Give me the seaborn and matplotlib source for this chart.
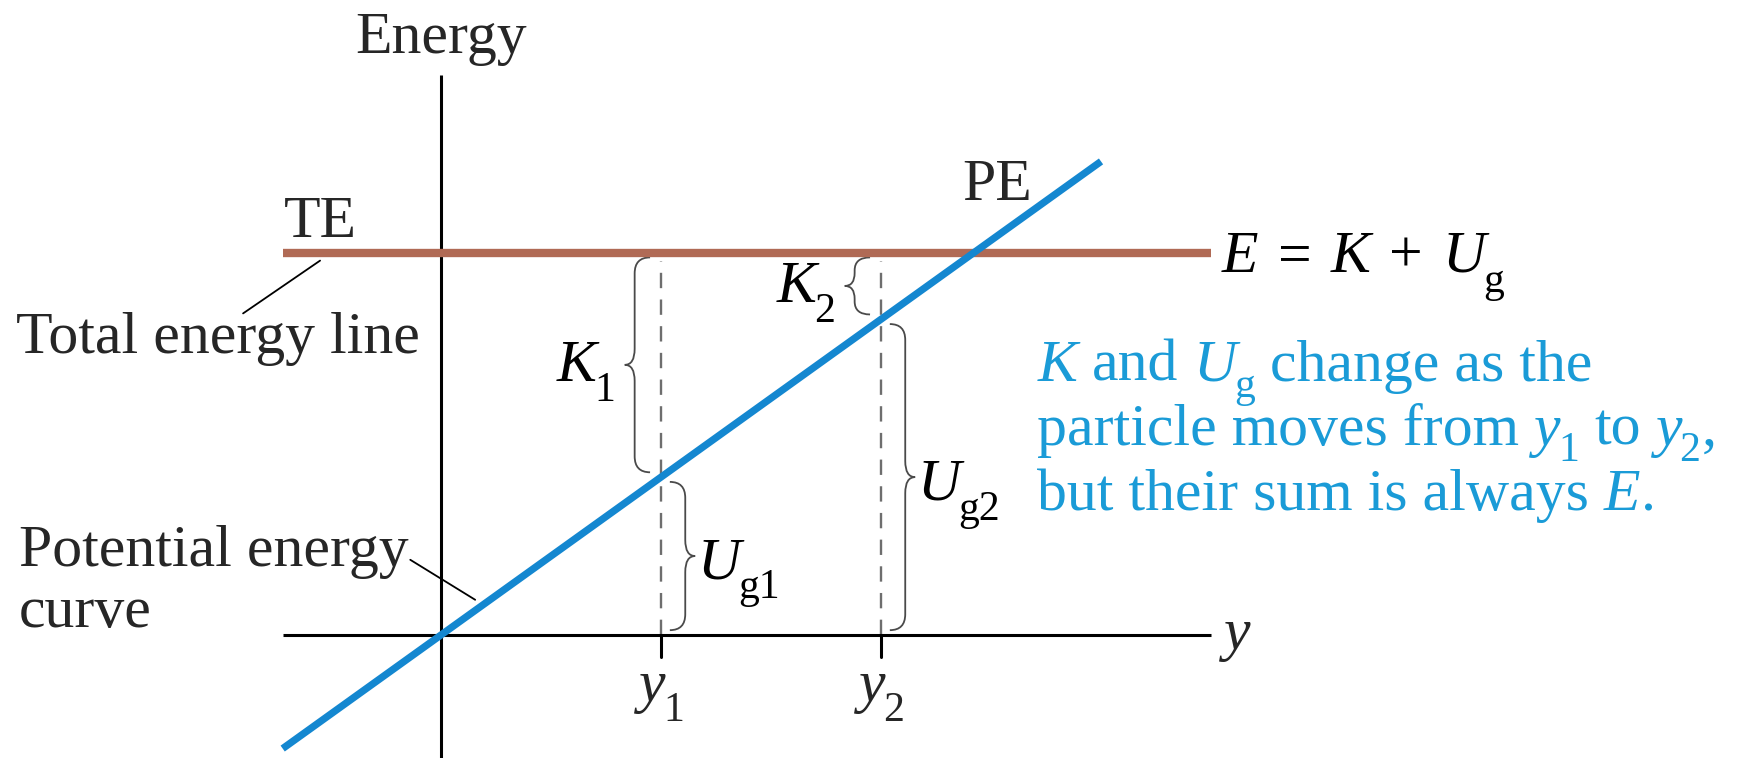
import numpy as np
import pandas as pd
import matplotlib
matplotlib.use("Agg")
import matplotlib.pyplot as plt
import seaborn as sns
from matplotlib.path import Path
from matplotlib.patches import PathPatch

# ---------------- data (diagram units) ----------------
position_extent = [-0.72, 3.50]        # horizontal axis (position y) extent
energy_extent = [-0.77, 3.50]          # vertical axis (Energy) extent
pe_positions = [-0.72, 3.00]           # potential energy line end points (position)
pe_energies = [-0.71, 2.96]            # potential energy line end points (energy)
total_energy = 2.39                    # E = K + U_g
marked_positions = [1.0, 2.0]          # y1, y2
marked_subscripts = ["1", "2"]
kinetic_subscripts = ["1", "2"]
potential_subscripts = ["g1", "g2"]

# ---------------- style ----------------
sns.set_theme(style="white")
plt.rcParams["font.family"] = ["Liberation Serif", "DejaVu Serif"]

TE_COLOR = "#B06A55"
PE_COLOR = "#1487D0"
NOTE_COLOR = "#1A9BD7"
FS = 43
SUB_SCALE = 0.70
SUB_DROP = 0.125          # subscript baseline drop, energy units

fig = plt.figure(figsize=(17.37, 7.58), dpi=100)
ax = fig.add_axes([0, 0, 1, 1])
ax.set_xlim(-2.005, 5.891)
ax.set_ylim(-0.769, 3.969)
ax.axis("off")


def rich(x, y, segs, color="black", ha="left", fs=FS, drop=SUB_DROP):
    """segs: list of (text, italic, subscript, gap_before_em)."""
    def kw(it, sub, h):
        return dict(fontsize=fs * (SUB_SCALE if sub else 1.0),
                    style="italic" if it else "normal", color=color,
                    va="baseline", ha=h)
    if ha == "left":
        prev = None
        for s, it, sub, gap in segs:
            yy = y - (drop if sub else 0.0)
            if prev is None:
                prev = ax.text(x, yy, s, **kw(it, sub, "left"))
            else:
                dx = gap * fs - (0.04 * fs if sub else 0.0)
                prev = ax.annotate(s, xy=(1, yy), xycoords=(prev, "data"),
                                   xytext=(dx, 0), textcoords="offset points",
                                   **kw(it, sub, "left"))
    else:
        nxt = None
        nxt_gap = 0.0
        nxt_sub = False
        for s, it, sub, gap in reversed(segs):
            yy = y - (drop if sub else 0.0)
            if nxt is None:
                nxt = ax.text(x, yy, s, **kw(it, sub, "right"))
            else:
                dx = -(nxt_gap * fs) + (0.04 * fs if nxt_sub else 0.0)
                nxt = ax.annotate(s, xy=(0, yy), xycoords=(nxt, "data"),
                                  xytext=(dx, 0), textcoords="offset points",
                                  **kw(it, sub, "right"))
            nxt_gap, nxt_sub = gap, sub


# axes lines
ax.plot(position_extent, [0, 0], color="black", lw=2.2, solid_capstyle="butt")
ax.plot([0, 0], energy_extent, color="black", lw=2.2, solid_capstyle="butt")

# total energy line
te_df = pd.DataFrame({"position": position_extent,
                      "energy": [total_energy] * len(position_extent)})
sns.lineplot(data=te_df, x="position", y="energy", color=TE_COLOR, lw=6,
             ax=ax, legend=False)

# potential energy line
pe_df = pd.DataFrame({"position": pe_positions, "energy": pe_energies})
sns.lineplot(data=pe_df, x="position", y="energy", color=PE_COLOR, lw=5.2,
             ax=ax, legend=False, zorder=5)
ax.lines[-1].set_solid_capstyle("butt")
ax.lines[-2].set_solid_capstyle("butt")


def brace(x, lo, hi, tip, curl, **kw):
    mid = (lo + hi) / 2
    r = min(0.1, (hi - lo) / 4.4)
    verts = [(x + curl, hi), (x, hi), (x, hi - r),
             (x, mid + r), (x, mid), (x + tip, mid),
             (x, mid), (x, mid - r),
             (x, lo + r), (x, lo), (x + curl, lo)]
    codes = [Path.MOVETO, Path.CURVE3, Path.CURVE3,
             Path.LINETO, Path.CURVE3, Path.CURVE3,
             Path.CURVE3, Path.CURVE3,
             Path.LINETO, Path.CURVE3, Path.CURVE3]
    ax.add_patch(PathPatch(Path(verts, codes), fill=False, **kw))
    return mid


brace_kw = dict(edgecolor="#4a4a4a", lw=1.3)
for ypos, msub, ksub, usub in zip(marked_positions, marked_subscripts,
                                   kinetic_subscripts, potential_subscripts):
    pe_here = np.interp(ypos, pe_positions, pe_energies)
    # dashed guide
    ax.plot([ypos, ypos], [0, total_energy - 0.05], color="#6e6e6e", lw=1.7,
            linestyle=(0, (6.5, 4.8)), zorder=1)
    # tick
    ax.plot([ypos, ypos], [0, -0.14], color="black", lw=2.2)
    t = ax.text(ypos + 0.02, -0.41, "y", fontsize=FS, style="italic",
                ha="right", va="baseline")
    ax.annotate(msub, xy=(1, -0.41 - SUB_DROP), xycoords=(t, "data"),
                xytext=(-0.04 * FS, 0), textcoords="offset points",
                fontsize=FS * SUB_SCALE, ha="left", va="baseline")
    # kinetic brace (left)
    arm = ypos - 0.12
    tip = -0.045
    mid = brace(arm, pe_here + 0.03, total_energy - 0.03, tip, 0.07, **brace_kw)
    rich(arm + tip - 0.045, mid - 0.10,
         [("K", True, False, 0), (ksub, False, True, 0)], ha="right")
    # potential brace (right)
    arm = ypos + 0.11
    tip = 0.045
    mid = brace(arm, 0.03, pe_here - 0.03, tip, -0.07, **brace_kw)
    rich(arm + tip + 0.012, mid - 0.14,
         [("U", True, False, 0), (usub, False, True, 0)], ha="left")

# leaders
ax.plot([-0.55, -0.90], [2.34, 2.01], color="black", lw=1.3)
ax.plot([-0.14, 0.155], [0.47, 0.22], color="black", lw=1.3)

# labels
ax.text(0, 3.64, "Energy", fontsize=FS, ha="center", va="baseline")
ax.text(-0.714, 2.49, "TE", fontsize=FS, ha="left", va="baseline")
ax.text(-1.93, 1.76, "Total energy line", fontsize=FS, ha="left", va="baseline")
ax.text(-1.92, 0.43, "Potential energy", fontsize=FS, ha="left", va="baseline")
ax.text(-1.92, 0.05, "curve", fontsize=FS, ha="left", va="baseline")
ax.text(2.37, 2.72, "PE", fontsize=FS, ha="left", va="baseline")
rich(3.55, 2.27, [("E", True, False, 0), ("=", False, False, 0.32),
                  ("K", True, False, 0.32), ("+", False, False, 0.32),
                  ("U", True, False, 0.32), ("g", False, True, 0)])
ax.text(3.56, -0.09, "y", fontsize=FS, style="italic", ha="left", va="baseline")

# note in blue
note_baselines = [1.59, 1.19, 0.78]
NOTE_DROP = 0.10
rich(2.71, note_baselines[0],
     [("K", True, False, 0), ("and", False, False, 0.25),
      ("U", True, False, 0.25), ("g", False, True, 0),
      ("change as the", False, False, 0.25)], color=NOTE_COLOR, drop=NOTE_DROP)
rich(2.71, note_baselines[1],
     [("particle moves from", False, False, 0), ("y", True, False, 0.25),
      ("1", False, True, 0), ("to", False, False, 0.25),
      ("y", True, False, 0.25), ("2", False, True, 0),
      (",", False, False, 0.02)], color=NOTE_COLOR, drop=NOTE_DROP)
rich(2.71, note_baselines[2],
     [("but their sum is always", False, False, 0), ("E", True, False, 0.25),
      (".", False, False, 0.0)], color=NOTE_COLOR, drop=NOTE_DROP)

fig.savefig("out.png", dpi=100, facecolor="white")
